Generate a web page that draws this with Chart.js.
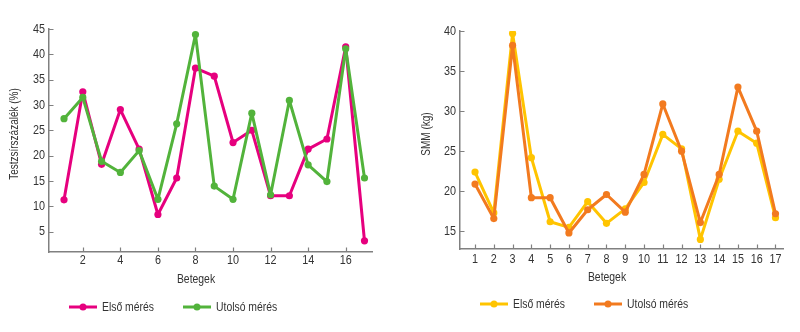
<!DOCTYPE html>
<html>
<head>
<meta charset="utf-8">
<script src="https://cdn.jsdelivr.net/npm/chart.js@4"></script>
<style>
  html, body { margin: 0; padding: 0; background: #fff; }
  #wrap { position: relative; width: 800px; height: 332px; }
  .panel { position: absolute; top: 0; width: 400px; height: 332px; }
</style>
</head>
<body>
<div id="wrap">
  <div class="panel" style="left:0"><canvas id="fat" width="400" height="332"></canvas></div>
  <div class="panel" style="left:400px"><canvas id="smm" width="400" height="332"></canvas></div>
</div>
<script>
// Patients (x axis) and measurements
const patients = [1, 2, 3, 4, 5, 6, 7, 8, 9, 10, 11, 12, 13, 14, 15, 16, 17];

// Body fat percentage (%)
const fatFirst = [11.3, 32.6, 18.3, 29.1, 21.3, 8.4, 15.6, 37.3, 35.7, 22.6, 25.0, 12.1, 12.1, 21.3, 23.3, 41.5, 3.2];
const fatLast  = [27.3, 31.5, 18.9, 16.7, 21.0, 11.4, 26.3, 43.9, 14.0, 11.4, 28.4, 12.3, 30.9, 18.2, 14.9, 41.1, 15.6];

// Skeletal muscle mass (kg)
const smmFirst = [22.4, 17.3, 39.7, 24.2, 16.2, 15.5, 18.7, 16.0, 17.8, 21.1, 27.1, 25.3, 14.0, 21.5, 27.5, 26.0, 16.7];
const smmLast  = [20.9, 16.6, 38.2, 19.2, 19.2, 14.8, 17.7, 19.6, 17.4, 22.1, 30.9, 25.0, 16.1, 22.1, 33.0, 27.5, 17.2];

// Tick labels
const fatXTicks = [2, 4, 6, 8, 10, 12, 14, 16];
const fatYTicks = [5, 10, 15, 20, 25, 30, 35, 40, 45];
const smmXTicks = [1, 2, 3, 4, 5, 6, 7, 8, 9, 10, 11, 12, 13, 14, 15, 16, 17];
const smmYTicks = [15, 20, 25, 30, 35, 40];

const seriesLabels = ['Első mérés', 'Utolsó mérés'];
const xTitle = 'Betegek';

// Narrow sans: Liberation Sans squeezed horizontally
const FAMILY = "'Liberation Sans', Arial, sans-serif";
const SQUEEZE = 0.8;
const TEXT = '#333333';
const AXIS = '#808080';

const toPoints = vals => vals.map((v, i) => ({ x: patients[i], y: v }));

function narrowText(ctx, str, x, y, size, align, angle) {
  ctx.save();
  ctx.translate(x, y);
  if (angle) ctx.rotate(angle);
  ctx.scale(SQUEEZE, 1);
  ctx.font = size + 'px ' + FAMILY;
  ctx.textAlign = align;
  ctx.textBaseline = 'middle';
  ctx.fillText(str, 0, 0);
  ctx.restore();
}

// Inward tick marks, tick labels, axis titles and a line-and-dot legend
const decor = {
  id: 'decor',
  beforeDatasetsDraw(chart, args, o) {
    const { ctx, chartArea, scales } = chart;
    ctx.save();
    ctx.strokeStyle = AXIS;
    ctx.lineWidth = 1.2;
    ctx.beginPath();
    scales.x.ticks.forEach(t => {
      const px = Math.round(scales.x.getPixelForValue(t.value)) + 0.5;
      ctx.moveTo(px, chartArea.bottom);
      ctx.lineTo(px, chartArea.bottom - 4.5);
    });
    scales.y.ticks.forEach(t => {
      const py = Math.round(scales.y.getPixelForValue(t.value)) + 0.5;
      ctx.moveTo(chartArea.left, py);
      ctx.lineTo(chartArea.left + 4.5, py);
    });
    ctx.stroke();
    ctx.restore();
  },
  afterDraw(chart, args, o) {
    const { ctx, chartArea, scales } = chart;
    ctx.save();
    ctx.fillStyle = TEXT;
    // tick labels
    scales.x.ticks.forEach(t => {
      narrowText(ctx, String(t.value), scales.x.getPixelForValue(t.value), o.xLabelY, 13.5, 'center');
    });
    scales.y.ticks.forEach(t => {
      narrowText(ctx, String(t.value), chartArea.left - 4, scales.y.getPixelForValue(t.value), 13.5, 'right');
    });
    // axis titles
    narrowText(ctx, xTitle, o.xTitleX, o.xTitleY, 13, 'center');
    narrowText(ctx, o.yTitle, o.yTitleX, o.yTitleY, 12.5, 'center', -Math.PI / 2);
    // legend
    chart.data.datasets.forEach((ds, i) => {
      const it = o.legend[i];
      ctx.strokeStyle = ds.borderColor;
      ctx.lineWidth = 3;
      ctx.beginPath();
      ctx.moveTo(it.x, o.legendY);
      ctx.lineTo(it.x + 28, o.legendY);
      ctx.stroke();
      ctx.fillStyle = ds.borderColor;
      ctx.beginPath();
      ctx.arc(it.x + 14, o.legendY, 3.5, 0, Math.PI * 2);
      ctx.fill();
      ctx.fillStyle = TEXT;
      narrowText(ctx, ds.label, it.x + 33, o.legendY, 13, 'left');
    });
    ctx.restore();
  }
};

function lineSet(label, vals, color, order) {
  return {
    label, data: toPoints(vals), order,
    borderColor: color, backgroundColor: color,
    borderWidth: 3, borderJoinStyle: 'round', borderCapStyle: 'round',
    pointRadius: 3.6, pointBorderWidth: 0,
    pointBackgroundColor: color, tension: 0, fill: false
  };
}

function makeChart(id, c) {
  return new Chart(document.getElementById(id), {
    type: 'line',
    data: { datasets: [lineSet(seriesLabels[0], c.first, c.colors[0], 1), lineSet(seriesLabels[1], c.last, c.colors[1], 0)] },
    options: {
      responsive: false, animation: false,
      layout: { padding: c.padding },
      plugins: { legend: { display: false }, tooltip: { enabled: false }, decor: c.decor },
      scales: {
        x: {
          type: 'linear', min: 0.2, max: 17.4,
          afterBuildTicks: s => { s.ticks = c.xTicks.map(v => ({ value: v })); },
          afterFit: s => { s.height = 30; },
          ticks: { display: false },
          grid: { display: true, drawOnChartArea: false, drawTicks: false },
          border: { color: AXIS, width: 1.5 }
        },
        y: {
          min: c.yMin, max: c.yMax,
          afterBuildTicks: s => { s.ticks = c.yTicks.map(v => ({ value: v })); },
          afterFit: s => { s.width = c.yWidth; },
          ticks: { display: false },
          grid: { display: true, drawOnChartArea: false, drawTicks: false },
          border: { color: AXIS, width: 1.5 }
        }
      }
    },
    plugins: [decor]
  });
}

makeChart('fat', {
  first: fatFirst, last: fatLast, colors: ['#e6007e', '#52b33b'],
  xTicks: fatXTicks, yTicks: fatYTicks, yMin: 1, yMax: 45, yWidth: 49,
  padding: { left: 0, top: 29, right: 28, bottom: 50 },
  decor: {
    yTitle: 'Testzsírszázalék (%)', yTitleX: 15, yTitleY: 134,
    xLabelY: 260.5, xTitleX: 196, xTitleY: 279,
    legendY: 307, legend: [{ x: 69 }, { x: 183 }]
  }
});

makeChart('smm', {
  first: smmFirst, last: smmLast, colors: ['#ffc400', '#f27a1f'],
  xTicks: smmXTicks, yTicks: smmYTicks, yMin: 12.8, yMax: 40, yWidth: 60,
  padding: { left: 0, top: 31, right: 17, bottom: 53 },
  decor: {
    yTitle: 'SMM (kg)', yTitleX: 27, yTitleY: 134,
    xLabelY: 259, xTitleX: 207, xTitleY: 277,
    legendY: 304, legend: [{ x: 80 }, { x: 194 }]
  }
});
</script>
</body>
</html>
